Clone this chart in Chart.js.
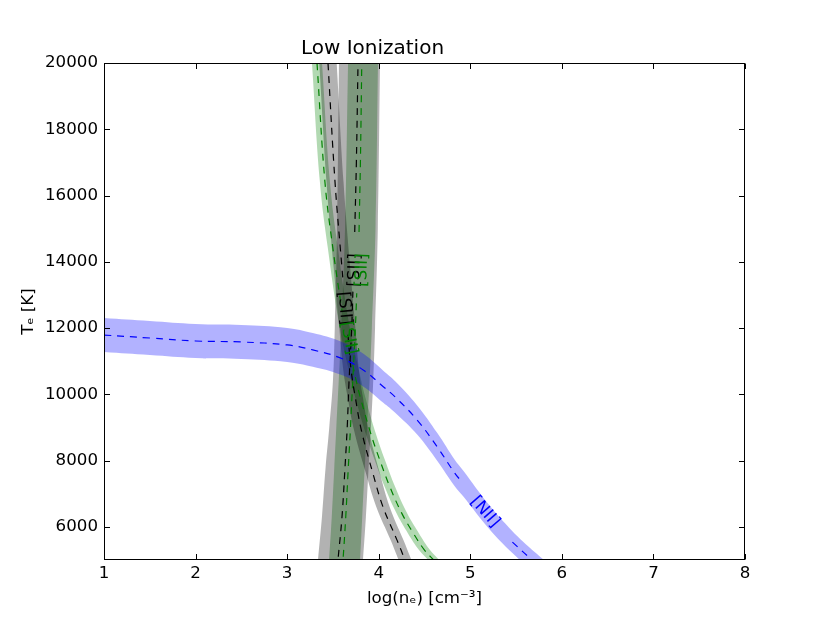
<!DOCTYPE html>
<html><head><meta charset="utf-8">
<script src="https://cdn.jsdelivr.net/npm/chart.js@4.4.1/dist/chart.umd.min.js"></script>
<style>html,body{margin:0;padding:0;background:#fff;} #wrap{width:830px;height:623px;}</style>
</head><body><div id="wrap"><canvas id="c" width="830" height="623"></canvas></div>
<script>
// ---- axis ticks ----
const xTicks = [1, 2, 3, 4, 5, 6, 7, 8];
const yTicks = [6000, 8000, 10000, 12000, 14000, 16000, 18000, 20000];

// ---- [NII] (blue): Te as a function of log(ne) ----
const niiLogN = [1.0, 1.5, 2.0, 2.5, 3.0, 3.28, 3.58, 3.83, 4.05, 4.18, 4.42, 4.64, 4.83, 4.92, 5.2, 5.46, 5.65, 5.75, 5.85];
const niiT    = [11790, 11700, 11610, 11580, 11490, 11340, 11100, 10735, 10230, 9920, 9225, 8410, 7625, 7320, null, 5540, 5060, 4830, 4600];
const niiTHi  = [12305, 12215, 12125, 12095, 12005, 11850, 11605, 11230, 10715, 10395, 9665, 8830, 8025, 7710, 6680, 5870, 5370, 5130, 4890];
const niiTLo  = [11275, 11185, 11095, 11065, 10975, 10830, 10595, 10240, 9745, 9445, 8785, 7990, 7225, 6930, 5960, 5210, 4750, 4530, 4310];

// ---- [SII] black, near-vertical: log(ne) as a function of Te ----
const sdLineT = [4700, 5000, 6300, 7800, 9000, 10400, 12000, 13100, null, 14900, 17000, 20000];
const sdLineN = [3.545, 3.555, 3.599, 3.632, 3.656, 3.676, 3.705, 3.718, null, 3.738, 3.756, 3.774];
const sdBandT = [4700, 5000, 6300, 7800, 9000, 10400, 12000, 15000, 20000];
const sdBandLo = [3.33, 3.337, 3.38, 3.42, 3.46, 3.50, 3.52, 3.545, 3.566];
const sdBandHi = [3.82, 3.828, 3.86, 3.89, 3.915, 3.94, 3.96, 3.99, 4.014];

// ---- [SII] green, near-vertical ----
const gdLineT = [4700, 5000, 6300, 7800, 8900, 10400, 12000, 13050, null, 14900, 17000, 20000];
const gdLineN = [3.60, 3.61, 3.64, 3.668, 3.69, 3.716, 3.745, 3.76, null, 3.785, 3.80, 3.815];
const gdBandT = [4700, 5000, 6300, 7800, 9000, 10400, 12000, 15000, 20000];
const gdBandLo = [3.447, 3.457, 3.487, 3.515, 3.537, 3.563, 3.592, 3.632, 3.665];
const gdBandHi = [3.786, 3.796, 3.82, 3.848, 3.872, 3.90, 3.925, 3.965, 3.992];

// ---- [SII] black, curving ----
const scLineT = [20000, 16400, 13800, 13500, null, 11800, 10700, 9900, 8900, 7600, 6600, 5600, 5000, 4700];
const scLineN = [3.446, 3.523, 3.599, 3.608, null, 3.664, 3.70, 3.745, 3.812, 3.938, 4.047, 4.20, 4.287, 4.33];
const scBandT = [20000, 16400, 13800, 12000, 10700, 9900, 8900, 7600, 6600, 5600, 5000, 4700];
const scBandLo = [3.351, 3.430, 3.509, 3.569, 3.615, 3.662, 3.732, 3.862, 3.974, 4.13, 4.217, 4.26];
const scBandHi = [3.541, 3.616, 3.689, 3.745, 3.785, 3.828, 3.892, 4.014, 4.12, 4.27, 4.357, 4.40];

// ---- [SII] green, curving ----
const gcLineT = [20000, 16400, 14400, 12500, null, 10900, 10400, 9900, 8800, 8000, 7200, 6400, 5800, 5300, 5000, 4700];
const gcLineN = [3.326, 3.413, 3.50, 3.60, null, 3.716, 3.755, 3.80, 3.915, 4.014, 4.123, 4.254, 4.38, 4.50, 4.60, 4.70];
const gcBandT = [20000, 16400, 14400, 12000, 10400, 9900, 8800, 8000, 7200, 6400, 5800, 5300, 5000, 4700];
const gcBandLo = [3.271, 3.358, 3.445, 3.575, 3.70, 3.745, 3.86, 3.958, 4.066, 4.196, 4.32, 4.44, 4.54, 4.64];
const gcBandHi = [3.381, 3.468, 3.555, 3.685, 3.81, 3.855, 3.97, 4.07, 4.18, 4.312, 4.44, 4.56, 4.66, 4.76];

// ---- inline contour labels (data coords) ----
const labelText = ['[SII]', '[SII]', '[SII]', '[SII]', '[NII]'];
const labelX    = [3.74, 3.82, 3.625, 3.67, 5.16];
const labelY    = [13750, 13750, 12600, 11700, 6450];
const labelRot  = [-88, -88, 85, 79, 49];
const labelColor = ['#000000', '#008000', '#000000', '#008000', '#0000ff'];

const FONT = 'DejaVu Sans';

function ptsXY(xs, ys) { return xs.map((x, i) => (x === null || ys[i] === null) ? {x: null, y: null} : {x: x, y: ys[i]}); }
function polyH(xs, lo, hi) {
  const a = xs.map((x, i) => ({x: x, y: lo[i]}));
  const b = xs.map((x, i) => ({x: x, y: hi[i]})).reverse();
  return a.concat([a[a.length - 1]], [b[0]], b);
}
function polyV(ts, lo, hi) {
  const a = ts.map((t, i) => ({x: lo[i], y: t}));
  const b = ts.map((t, i) => ({x: hi[i], y: t})).reverse();
  return a.concat([a[a.length - 1]], [b[0]], b);
}
function band(data, color) {
  return {data: data, fill: 'shape', backgroundColor: color, borderColor: 'rgba(0,0,0,0)', borderWidth: 0,
    pointRadius: 0, tension: 0.4, capBezierPoints: false, order: 2};
}
function dline(data, color) {
  return {data: data, fill: false, borderColor: color, borderWidth: 1.2, borderDash: [7, 6], pointRadius: 0,
    tension: 0.4, capBezierPoints: false, order: 0, spanGaps: false};
}

const datasets = [
  band(polyH(niiLogN, niiTLo, niiTHi), 'rgba(0,0,255,0.3)'),
  band(polyV(sdBandT, sdBandLo, sdBandHi), 'rgba(0,0,0,0.3)'),
  band(polyV(scBandT, scBandLo, scBandHi), 'rgba(0,0,0,0.3)'),
  band(polyV(gdBandT, gdBandLo, gdBandHi), 'rgba(0,128,0,0.3)'),
  band(polyV(gcBandT, gcBandLo, gcBandHi), 'rgba(0,128,0,0.3)'),
  dline(ptsXY(niiLogN, niiT), '#0000ff'),
  dline(ptsXY(sdLineN, sdLineT), '#000000'),
  dline(ptsXY(scLineN, scLineT), '#000000'),
  dline(ptsXY(gdLineN, gdLineT), '#008000'),
  dline(ptsXY(gcLineN, gcLineT), '#008000')
];

const framePlugin = {
  id: 'frame',
  afterDatasetsDraw(chart) {
    const ctx = chart.ctx, a = chart.chartArea;
    const xs = chart.scales.x, ys = chart.scales.y;
    ctx.save();
    for (let i = 0; i < labelText.length; i++) {
      const px = xs.getPixelForValue(labelX[i]);
      const py = ys.getPixelForValue(labelY[i]);
      ctx.save();
      ctx.translate(px, py);
      ctx.rotate(labelRot[i] * Math.PI / 180);
      ctx.fillStyle = labelColor[i];
      ctx.font = '16.67px "' + FONT + '"';
      ctx.textAlign = 'center';
      ctx.textBaseline = 'middle';
      ctx.fillText(labelText[i], 0, 0);
      ctx.restore();
    }
    ctx.strokeStyle = '#000';
    ctx.lineWidth = 1;
    const L = Math.round(a.left) + 0.5, R = Math.round(a.right) - 0.5, T = Math.round(a.top) + 0.5, B = Math.round(a.bottom) - 0.5;
    ctx.strokeRect(L, T, R - L, B - T);
    const tl = 5.5;
    ctx.beginPath();
    xs.ticks.forEach(t => {
      const p = Math.round(xs.getPixelForValue(t.value)) + 0.5;
      ctx.moveTo(p, B); ctx.lineTo(p, B - tl);
      ctx.moveTo(p, T); ctx.lineTo(p, T + tl);
    });
    ys.ticks.forEach(t => {
      const p = Math.round(ys.getPixelForValue(t.value)) + 0.5;
      ctx.moveTo(L, p); ctx.lineTo(L + tl, p);
      ctx.moveTo(R, p); ctx.lineTo(R - tl, p);
    });
    ctx.stroke();
    ctx.restore();
  }
};

const tickFont = {family: FONT, size: 16.67};
new Chart(document.getElementById('c'), {
  type: 'line',
  data: {datasets: datasets},
  options: {
    responsive: false,
    animation: false,
    devicePixelRatio: 1,
    layout: {padding: {left: 0, right: 85, top: 0, bottom: 0}},
    plugins: {
      legend: {display: false},
      tooltip: {enabled: false},
      title: {display: true, text: 'Low Ionization', color: '#000',
        font: {family: FONT, size: 20, weight: 'normal'}, padding: {top: 37, bottom: 2}}
    },
    scales: {
      x: {
        type: 'linear', min: 1, max: 8,
        grid: {display: false, drawTicks: false, tickLength: 0},
        border: {display: false},
        ticks: {font: tickFont, color: '#000', padding: 4, maxRotation: 0, callback: v => String(v)},
        afterBuildTicks: s => { s.ticks = xTicks.map(v => ({value: v})); },
        afterFit: s => { s.height = 63; },
        title: {display: true, text: 'log(n\u2091) [cm\u207B\u00B3]', color: '#000', font: tickFont, padding: {top: 14, bottom: 14}}
      },
      y: {
        type: 'linear', min: 5000, max: 20000,
        grid: {display: false, drawTicks: false, tickLength: 0},
        border: {display: false},
        ticks: {font: tickFont, color: '#000', padding: 6, callback: v => String(v)},
        afterBuildTicks: s => { s.ticks = yTicks.map(v => ({value: v})); },
        afterFit: s => { s.width = 104; },
        title: {display: true, text: 'T\u2091 [K]', color: '#000', font: tickFont, padding: {top: 19, bottom: 19}}
      }
    }
  },
  plugins: [framePlugin]
});
</script>
</body></html>
